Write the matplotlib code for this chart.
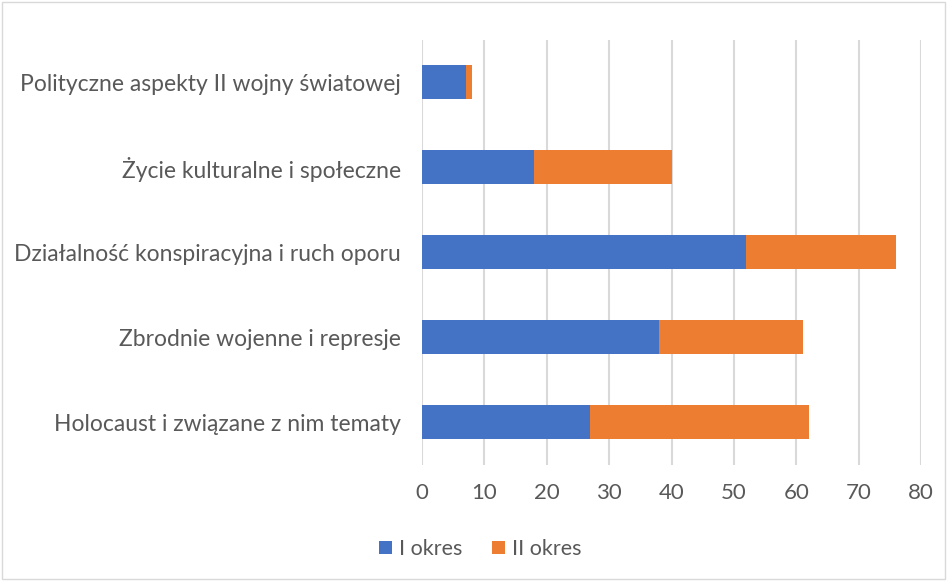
import matplotlib.pyplot as plt
from matplotlib.patches import Rectangle

# -----------------------------------------------------
# Data
# -----------------------------------------------------
categories = [
    "Holocaust i związane z nim tematy",
    "Zbrodnie wojenne i represje",
    "Działalność konspiracyjna i ruch oporu",
    "Życie kulturalne i społeczne",
    "Polityczne aspekty II wojny światowej",
]
okres_1 = [27, 38, 52, 18, 7]
okres_2 = [35, 23, 24, 22, 1]
series_labels = ["I okres", "II okres"]

BLUE = "#4472C4"
ORANGE = "#ED7D31"
TEXT = "#595959"

plt.rcParams["font.family"] = ["Lato", "DejaVu Sans"]

fig = plt.figure(figsize=(9.47, 5.81), dpi=100)
ax = fig.add_axes([0.4456, 0.1997, 0.5270, 0.7315])

y = range(len(categories))
ax.barh(y, okres_1, height=0.4, color=BLUE, label=series_labels[0], zorder=3)
ax.barh(y, okres_2, left=okres_1, height=0.4, color=ORANGE,
        label=series_labels[1], zorder=3)

ax.set_xlim(0, 80)
ax.set_ylim(-0.5, len(categories) - 0.5)
ax.set_xticks(range(0, 81, 10))
ax.set_yticks(list(y))
ax.set_yticklabels(categories)
ax.tick_params(axis="both", length=0, colors=TEXT)
ax.tick_params(axis="x", pad=13, labelsize=16)
ax.tick_params(axis="y", pad=15, labelsize=16.5)
ax.grid(axis="x", color="#D9D9D9", linewidth=1.5, zorder=0)
for s in ax.spines.values():
    s.set_visible(False)

fig.legend(loc="center", bbox_to_anchor=(0.507, 0.055), ncol=2, frameon=False,
           fontsize=15.5, handlelength=0.6, handleheight=0.6, handletextpad=0.3,
           columnspacing=1.4, labelcolor=TEXT)

# light border around the whole chart
fig.patches.append(Rectangle((0.002, 0.003), 0.996, 0.994, transform=fig.transFigure,
                             fill=False, edgecolor="#D9D9D9", linewidth=1))

fig.savefig("out.png", dpi=100)
